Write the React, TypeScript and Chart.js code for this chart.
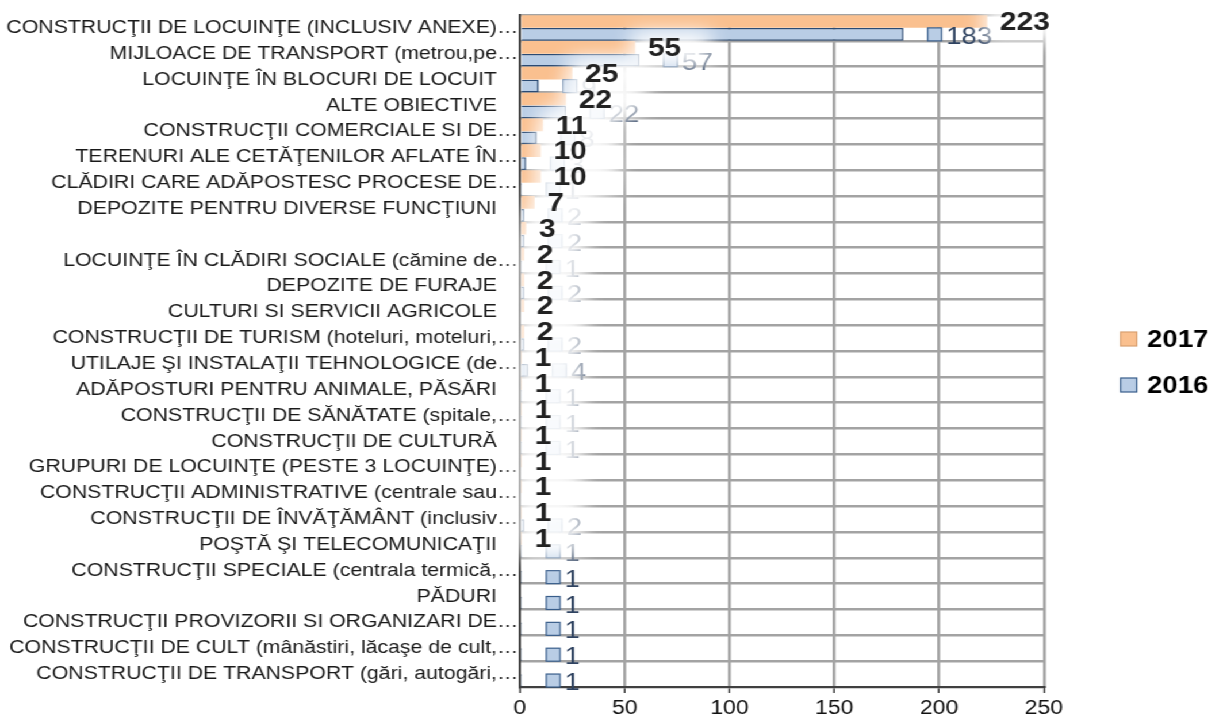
import React, { useEffect, useRef } from 'react';
import { Chart, registerables } from 'chart.js';

Chart.register(...registerables);

const categories = [
  'CONSTRUCŢII DE LOCUINŢE (INCLUSIV ANEXE)…',
  'MIJLOACE DE TRANSPORT (metrou,pe…',
  'LOCUINŢE ÎN BLOCURI DE LOCUIT',
  'ALTE OBIECTIVE',
  'CONSTRUCŢII COMERCIALE SI DE…',
  'TERENURI ALE CETĂŢENILOR AFLATE ÎN…',
  'CLĂDIRI CARE ADĂPOSTESC PROCESE DE…',
  'DEPOZITE PENTRU DIVERSE FUNCŢIUNI',
  '',
  'LOCUINŢE ÎN CLĂDIRI SOCIALE (cămine de…',
  'DEPOZITE DE FURAJE',
  'CULTURI SI SERVICII AGRICOLE',
  'CONSTRUCŢII DE TURISM (hoteluri, moteluri,…',
  'UTILAJE ŞI INSTALAŢII TEHNOLOGICE (de…',
  'ADĂPOSTURI PENTRU ANIMALE, PĂSĂRI',
  'CONSTRUCŢII DE SĂNĂTATE (spitale,…',
  'CONSTRUCŢII DE CULTURĂ',
  'GRUPURI DE LOCUINŢE (PESTE 3 LOCUINŢE)…',
  'CONSTRUCŢII ADMINISTRATIVE (centrale sau…',
  'CONSTRUCŢII DE ÎNVĂŢĂMÂNT (inclusiv…',
  'POŞTĂ ŞI TELECOMUNICAŢII',
  'CONSTRUCŢII SPECIALE (centrala termică,…',
  'PĂDURI',
  'CONSTRUCŢII PROVIZORII SI ORGANIZARI DE…',
  'CONSTRUCŢII DE CULT (mânăstiri, lăcaşe de cult,…',
  'CONSTRUCŢII DE TRANSPORT (gări, autogări,…',
];

const values2017: (number | null)[] = [223, 55, 25, 22, 11, 10, 10, 7, 3, 2, 2, 2, 2, 1, 1, 1, 1, 1, 1, 1, 1, null, null, null, null, null];
const values2016: (number | null)[] = [183, 57, 9, 22, 8, 3, 1, 2, 2, 1, 2, null, 2, 4, 1, 1, 1, null, null, 2, 1, 1, 1, 1, 1, 1];

const seriesLabels = ['2017', '2016'];
const xTicks = [0, 50, 100, 150, 200, 250];

const FONT = '"Liberation Sans", Arial, sans-serif';
const ORANGE = '#fac08f';
const BLUE = '#b9cde5';
const BLUE_EDGE = '#2a4a73';
const GRID = '#a3a3a3';
const STRETCH = 1.15;
const W = 1218 / STRETCH;
const H = 722;

const labelPlugin = {
  id: 'valueLabels',
  afterDatasetsDraw(chart: any) {
    const ctx = chart.ctx as CanvasRenderingContext2D;
    const m17 = chart.getDatasetMeta(0);
    const m16 = chart.getDatasetMeta(1);
    ctx.save();
    ctx.textBaseline = 'middle';
    ctx.textAlign = 'left';
    // 2016 labels with legend key
    ctx.font = `24px ${FONT}`;
    values2016.forEach((v, i) => {
      if (v == null) return;
      const el = m16.data[i];
      const mx = el.x + 21;
      const my = el.y;
      ctx.fillStyle = BLUE;
      ctx.strokeStyle = '#385d8a';
      ctx.lineWidth = 1.2;
      ctx.fillRect(mx, my - 6.5, 12, 13);
      ctx.strokeRect(mx, my - 6.5, 12, 13);
      ctx.fillStyle = '#2e4260';
      ctx.fillText(String(v), mx + 16, my + 3);
    });
    // 2017 labels with a white glow
    ctx.font = `bold 26px ${FONT}`;
    const pos: { x: number; y: number; t: string }[] = [];
    values2017.forEach((v, i) => {
      if (v == null) return;
      const el = m17.data[i];
      pos.push({ x: el.x + 11, y: el.y + 1.5, t: String(v) });
    });
    pos.forEach((p) => {
      const w = ctx.measureText(p.t).width;
      ctx.save();
      ctx.filter = 'blur(9px)';
      ctx.fillStyle = 'rgba(255,255,255,0.95)';
      ctx.fillRect(p.x - 14, p.y - 18, w + 40, 36);
      ctx.restore();
    });
    ctx.filter = 'none';
    pos.forEach((p) => {
      ctx.fillStyle = '#222';
      ctx.fillText(p.t, p.x, p.y);
    });
    ctx.restore();
  },
};

const legendPlugin = {
  id: 'customLegend',
  afterDraw(chart: any) {
    const ctx = chart.ctx as CanvasRenderingContext2D;
    const items = [
      { text: seriesLabels[0], fill: ORANGE, stroke: '#d9a070', y: 339 },
      { text: seriesLabels[1], fill: BLUE, stroke: '#385d8a', y: 385 },
    ];
    ctx.save();
    ctx.font = `bold 24px ${FONT}`;
    ctx.textBaseline = 'middle';
    ctx.textAlign = 'left';
    items.forEach((it) => {
      const bx = 974.5;
      ctx.fillStyle = it.fill;
      ctx.strokeStyle = it.stroke;
      ctx.lineWidth = 1.2;
      ctx.fillRect(bx, it.y - 7, 14, 14);
      ctx.strokeRect(bx, it.y - 7, 14, 14);
      ctx.fillStyle = '#000';
      ctx.fillText(it.text, bx + 23, it.y + 1);
    });
    ctx.restore();
  },
};

export default function App() {
  const ref = useRef<HTMLCanvasElement>(null);
  useEffect(() => {
    if (!ref.current) return;
    const chart = new Chart(ref.current, {
      type: 'bar',
      data: {
        labels: categories,
        datasets: [
          {
            label: seriesLabels[0],
            data: values2017 as any,
            backgroundColor: ORANGE,
            borderWidth: 0,
            categoryPercentage: 1,
            barPercentage: 0.98,
          },
          {
            label: seriesLabels[1],
            data: values2016 as any,
            backgroundColor: BLUE,
            borderColor: BLUE_EDGE,
            borderWidth: 1.5,
            categoryPercentage: 1,
            barPercentage: 0.98,
          },
        ],
      },
      options: {
        indexAxis: 'y',
        responsive: true,
        maintainAspectRatio: false,
        animation: false,
        devicePixelRatio: 1,
        layout: { padding: { left: 0, right: W - 1044 / STRETCH, top: 15, bottom: 0 } },
        plugins: {
          legend: { display: false },
          tooltip: { enabled: false },
        },
        scales: {
          x: {
            type: 'linear',
            min: xTicks[0],
            max: xTicks[xTicks.length - 1],
            afterBuildTicks: (s: any) => {
              s.ticks = xTicks.map((v) => ({ value: v }));
            },
            ticks: {
              font: { family: FONT, size: 20 },
              color: '#111',
              padding: 3,
              maxRotation: 0,
            },
            grid: {
              color: (c: any) => (c.tick && c.tick.value === 0 ? 'rgba(0,0,0,0)' : GRID),
              lineWidth: 2.5,
              drawTicks: true,
              tickLength: 6,
              tickColor: '#404040',
              tickWidth: 1.5,
            },
            border: { display: true, color: '#404040', width: 2 },
            afterFit: (s: any) => {
              s.height = 35;
              s.paddingLeft = 0;
              s.paddingRight = 0;
            },
          } as any,
          y: {
            ticks: {
              font: { family: FONT, size: 18.5 },
              color: '#1a1a1a',
              padding: 1.5,
              autoSkip: false,
              callback: (_v: any, i: number) => {
                const l = categories[i];
                return l === '' || l.endsWith('…') ? l : l + '\u2002\u2002';
              },
            },
            grid: { display: true, color: GRID, lineWidth: 2.5, drawTicks: false, tickLength: 0, offset: true },
            border: { display: true, color: '#404040', width: 2 },
            afterFit: (s: any) => {
              s.width = 520 / STRETCH;
              s.paddingTop = 0;
              s.paddingBottom = 0;
            },
          } as any,
        },
      },
      plugins: [labelPlugin, legendPlugin],
    });
    return () => chart.destroy();
  }, []);

  return (
    <div
      style={{
        position: 'fixed',
        left: 0,
        top: 0,
        width: W,
        height: H,
        transform: `scaleX(${STRETCH})`,
        transformOrigin: '0 0',
        background: '#fff',
      }}
    >
      <canvas ref={ref} />
    </div>
  );
}
